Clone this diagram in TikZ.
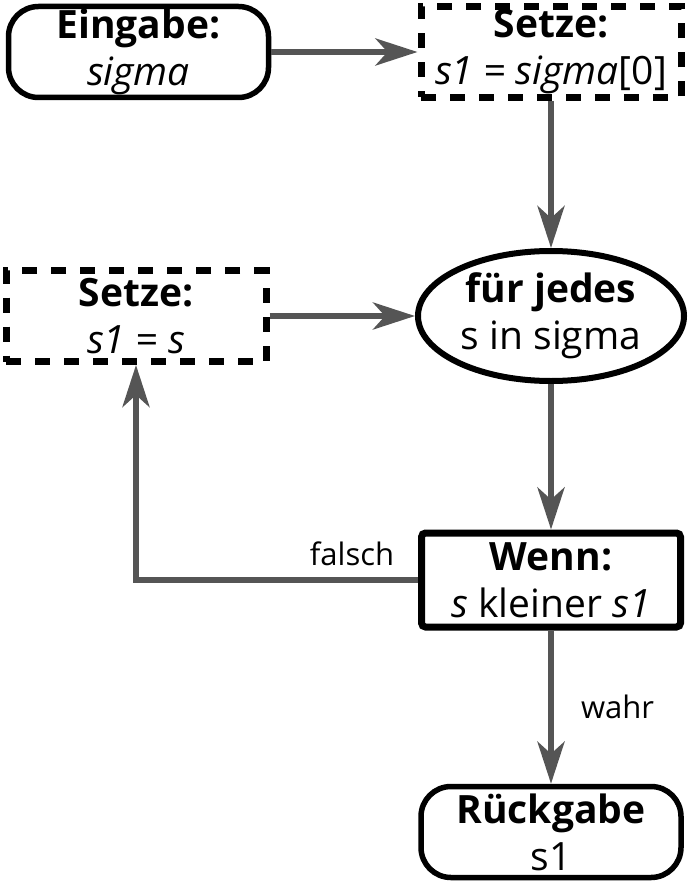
\documentclass[tikz,border=0pt]{standalone}
\usepackage{fontspec}
\setmainfont{Open Sans}
\usetikzlibrary{arrows.meta,shapes.geometric}
\definecolor{arrgray}{HTML}{555555}
\newcommand{\mainsize}{\fontsize{39pt}{47pt}\selectfont}
\newcommand{\labsize}{\fontsize{31pt}{37pt}\selectfont}
\tikzset{
  boxbase/.style={draw=black, align=center, font=\mainsize, inner sep=0pt,
    minimum width=260pt, minimum height=91pt, fill=white},
  roundbox/.style={boxbase, rectangle, rounded corners=30pt, line width=5.5pt},
  dashbox/.style={boxbase, rectangle, line width=7pt, dash pattern=on 15pt off 14pt},
  condbox/.style={boxbase, rectangle, rounded corners=4pt, line width=7pt,
    minimum width=259pt, minimum height=94pt},
  loopell/.style={draw=black, ellipse, line width=6pt, align=center, font=\mainsize,
    inner sep=0pt, minimum width=266pt, minimum height=130pt},
  arr/.style={draw=arrgray, line width=6pt,
    -{Stealth[length=42pt,width=27pt,inset=12pt]}},
  lab/.style={font=\labsize, inner sep=0pt, text=black}
}
\begin{document}
\begin{tikzpicture}[x=1pt,y=1pt]
\useasboundingbox (0,0) rectangle (688,-885);
\node[roundbox] (in) at (138.5,-52) {\textbf{Eingabe:}\\\textit{sigma}};
\node[dashbox] (set0) at (551,-52) {\textbf{Setze:}\\\textit{s1 = sigma}[0]};
\node[dashbox] (set1) at (136,-316) {\textbf{Setze:}\\\textit{s1 = s}};
\node[loopell] (loop) at (551,-316) {\textbf{für jedes}\\s in sigma};
\node[condbox] (cond) at (551,-580) {\textbf{Wenn:}\\\textit{s} kleiner \textit{s1}};
\node[roundbox] (ret) at (551,-832) {\textbf{Rückgabe}\\s1};
\draw[arr] (in) -- (set0);
\draw[arr] (set0) -- (loop);
\draw[arr] (set1) -- (loop);
\draw[arr] (loop) -- (cond);
\draw[arr] (cond) -- node[lab, right=27pt] {wahr} (ret);
\draw[arr] (cond.west) -| node[lab, above=11pt, pos=0.117] {falsch} (set1.south);
\end{tikzpicture}
\end{document}
